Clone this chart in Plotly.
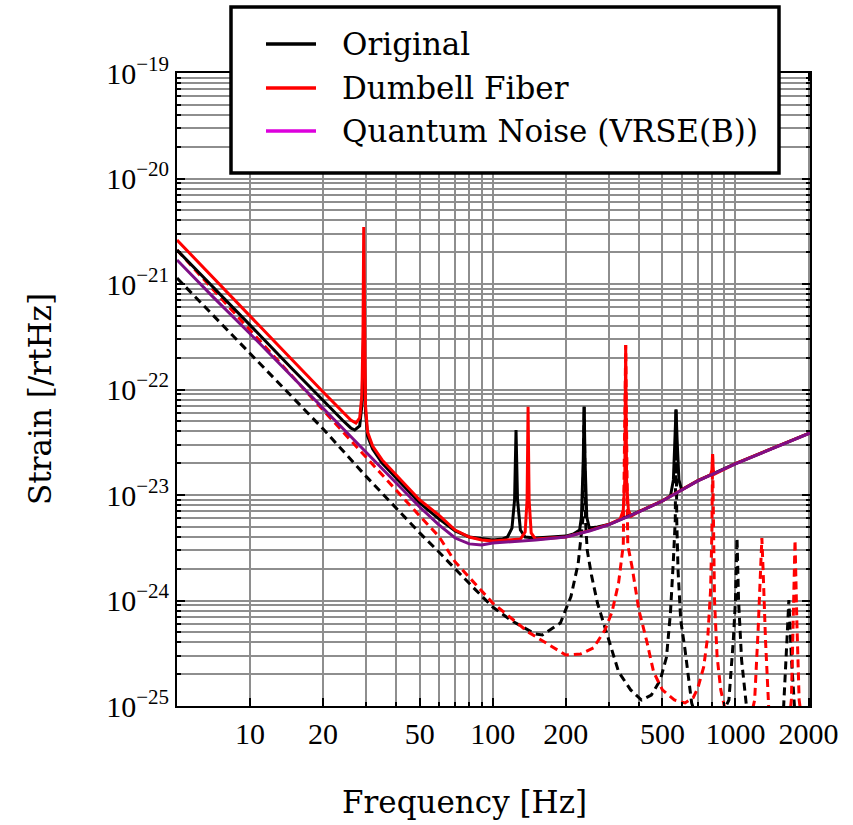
import plotly.graph_objects as go

# ---------------- data (frequency in Hz, strain in 1/sqrt(Hz)) ----------------
qn_freq = [5, 7, 10, 15, 20, 30, 40, 50, 60, 70, 80, 90, 100, 150, 200, 250, 300,
           400, 500, 700, 1000, 1500, 2030]
qn_strain = [1.69e-21, 7.63e-22, 3.38e-22, 1.30e-22, 6.65e-23, 2.58e-23, 1.28e-23,
             7.69e-24, 5.20e-24, 3.91e-24, 3.44e-24, 3.36e-24, 3.51e-24, 3.75e-24,
             4.00e-24, 4.56e-24, 5.20e-24, 6.90e-24, 8.77e-24, 1.36e-23, 1.97e-23,
             2.92e-23, 3.87e-23]

orig_freq = [5, 7, 10, 15, 20, 24, 26, 27, 28.3, 28.9, 29.4, 29.9, 30.5, 32, 35, 40,
             50, 60, 70, 80, 90, 100, 110, 115, 120, 123, 124.7, 126.5, 130, 136,
             150, 200, 215, 228, 232, 236, 238, 240, 244, 250, 270, 300, 400, 500,
             540, 555, 563, 569, 575, 585, 600, 700, 1000, 1500, 2030]
orig_strain = [2.10e-21, 9.38e-22, 4.08e-22, 1.55e-22, 7.78e-23, 5.14e-23, 4.32e-23,
               4.13e-23, 4.51e-23, 7.13e-23, 3.66e-22, 6.12e-23, 3.62e-23, 2.73e-23,
               2.01e-23, 1.45e-23, 8.40e-24, 5.93e-24, 4.56e-24, 4.00e-24, 3.83e-24,
               3.74e-24, 3.83e-24, 4.00e-24, 4.86e-24, 8.97e-24, 4.13e-23, 8.97e-24,
               4.66e-24, 4.00e-24, 3.91e-24, 4.08e-24, 4.27e-24, 4.66e-24, 6.18e-24,
               2.15e-23, 6.87e-23, 2.15e-23, 6.18e-24, 4.86e-24, 4.97e-24, 5.25e-24,
               6.95e-24, 8.80e-24, 9.80e-24, 1.39e-23, 3.32e-23, 6.49e-23, 3.32e-23,
               1.39e-23, 1.12e-23, 1.37e-23, 1.98e-23, 2.93e-23, 3.88e-23]

dumb_freq = [5, 7, 10, 15, 20, 24, 26, 27.3, 28.3, 28.9, 29.2, 29.4, 29.6, 29.9, 30.5,
             32, 35, 40, 50, 60, 70, 80, 90, 100, 120, 130, 136, 138.5, 139.8, 141.2,
             144, 150, 200, 250, 300, 335, 345, 350, 353, 356, 362, 372, 400, 500,
             700, 790, 800, 805, 810, 820, 1000, 1500, 2030]
dumb_strain = [2.61e-21, 1.16e-21, 4.98e-22, 1.88e-22, 9.46e-23, 6.12e-23, 5.14e-23,
               4.81e-23, 5.37e-23, 8.87e-23, 3.66e-22, 3.47e-21, 3.66e-22, 7.13e-23,
               3.95e-23, 2.91e-23, 2.15e-23, 1.55e-23, 8.97e-24, 6.45e-24, 4.66e-24,
               4.00e-24, 3.74e-24, 3.66e-24, 3.74e-24, 3.82e-24, 4.45e-24, 8.97e-24,
               6.87e-23, 8.97e-24, 4.37e-24, 3.82e-24, 4.00e-24, 4.60e-24, 5.25e-24,
               5.90e-24, 7.21e-24, 1.39e-23, 2.64e-22, 1.39e-23, 7.21e-24, 6.30e-24,
               6.95e-24, 8.80e-24, 1.37e-23, 1.55e-23, 1.73e-23, 2.45e-23, 1.73e-23,
               1.58e-23, 1.98e-23, 2.93e-23, 3.88e-23]

# suspension thermal noise (dashed)
orig_th_freq = [5, 10, 20, 30, 50, 60, 70, 85, 100, 120, 150, 160, 190, 210, 225, 235,
                238, 241, 245, 255, 270, 300, 330, 370, 410, 450, 490, 520, 540, 555,
                565, 569, 573, 580, 595, 620, 660, 700, 850, 940, 980, 1000, 1015,
                1030, 1060, 1110, 1200, 1450, 1580, 1630, 1660, 1700, 1750, 1850, 2030]
orig_th_strain = [1.14e-21, 2.22e-22, 4.23e-23, 1.51e-23, 4.37e-24, 2.88e-24, 1.99e-24,
                  1.26e-24, 8.67e-25, 6.40e-25, 4.81e-25, 4.71e-25, 6.12e-25, 1.09e-24,
                  2.26e-24, 5.80e-24, 6.87e-23, 5.80e-24, 3.01e-24, 1.75e-24, 9.46e-25,
                  4.22e-25, 2.11e-25, 1.42e-25, 1.14e-25, 1.27e-25, 1.76e-25, 2.91e-25,
                  7.78e-25, 2.42e-24, 5.80e-24, 6.49e-23, 5.80e-24, 1.95e-24, 6.53e-25,
                  3.40e-25, 1.07e-25, 7.0e-26, 7.0e-26, 1.14e-25, 4.22e-25, 1.00e-24,
                  3.91e-24, 1.00e-24, 2.73e-25, 1.00e-25, 6.0e-26, 6.0e-26, 1.00e-25,
                  4.20e-25, 1.01e-24, 2.90e-25, 1.00e-25, 6.0e-26, 6.0e-26]

dumb_th_freq = [5, 10, 20, 30, 50, 60, 70, 100, 140, 200, 230, 260, 290, 310, 330, 345,
                353, 360, 375, 400, 430, 460, 500, 560, 620, 670, 700, 740, 770, 790,
                800, 805, 810, 820, 840, 870, 900, 950, 1150, 1200, 1240, 1270, 1285,
                1300, 1330, 1370, 1420, 1650, 1700, 1730, 1760, 1790, 1830, 1900, 2030]
dumb_th_strain = [2.10e-21, 3.66e-22, 6.40e-23, 2.26e-23, 6.33e-24, 4.05e-24, 2.32e-24,
                  9.46e-25, 5.02e-25, 3.04e-25, 3.11e-25, 3.55e-25, 5.25e-25, 7.78e-25,
                  1.47e-24, 3.36e-24, 2.64e-22, 3.36e-24, 2.08e-24, 8.13e-25, 4.22e-25,
                  2.10e-25, 1.42e-25, 1.14e-25, 1.07e-25, 1.20e-25, 1.48e-25, 2.35e-25,
                  4.71e-25, 1.26e-24, 4.66e-24, 2.45e-23, 4.66e-24, 1.00e-24, 2.97e-25,
                  1.42e-25, 1.00e-25, 7.4e-26, 7.4e-26, 1.14e-25, 5.25e-25, 1.95e-24,
                  3.91e-24, 1.95e-24, 4.22e-25, 1.00e-25, 5.9e-26, 5.9e-26, 1.14e-25,
                  6.53e-25, 3.74e-24, 6.53e-25, 1.14e-25, 5.9e-26, 5.9e-26]

# axis ticks
x_major = [10, 20, 50, 100, 200, 500, 1000, 2000]
x_major_text = ["10", "20", "50", "100", "200", "500", "1000", "2000"]
x_minor = [30, 40, 60, 70, 80, 90, 300, 400, 600, 700, 800, 900]
y_exponents = [-25, -24, -23, -22, -21, -20, -19]
y_major = [10.0 ** e for e in y_exponents]
y_major_text = ["10<sup>\u2212%d</sup>" % (-e) for e in y_exponents]
y_minor = [k * 10.0 ** e for e in y_exponents[:-1] for k in range(2, 10)]

legend_names = ["Original", "Dumbell Fiber", "Quantum Noise (VRSE(B))"]
legend_colors = ["#000000", "#ff0000", "#dd00dd"]

BLACK, RED, PURPLE = "#000000", "#ff0000", "#7f0f87"
DASH = "8px,5px"

fig = go.Figure()
fig.add_trace(go.Scatter(x=orig_th_freq, y=orig_th_strain, mode="lines",
                         line=dict(color=BLACK, width=3, dash=DASH)))
fig.add_trace(go.Scatter(x=dumb_th_freq, y=dumb_th_strain, mode="lines",
                         line=dict(color=RED, width=3, dash=DASH)))
fig.add_trace(go.Scatter(x=orig_freq, y=orig_strain, mode="lines", name=legend_names[0],
                         line=dict(color=BLACK, width=3)))
fig.add_trace(go.Scatter(x=dumb_freq, y=dumb_strain, mode="lines", name=legend_names[1],
                         line=dict(color=RED, width=3)))
fig.add_trace(go.Scatter(x=qn_freq, y=qn_strain, mode="lines", name=legend_names[2],
                         line=dict(color=PURPLE, width=3)))

# plot area in pixels
L, T, W, H = 177, 73, 633, 633
FIG_W, FIG_H = 853, 825


def px(x):
    return (x - L) / W


def py(y):
    return (T + H - y) / H


GRID = "#8e8e8e"
tick_font = dict(family="'Liberation Serif', 'Times New Roman', serif", size=30,
                 color="#000000")
title_font = dict(family="'DejaVu Serif', serif", size=31, color="#000000")

fig.update_xaxes(
    type="log", range=[0.69897, 3.3072],
    tickmode="array", tickvals=x_major, ticktext=x_major_text,
    ticks="inside", ticklen=8, tickwidth=1.5, tickcolor="#000000",
    showgrid=True, gridcolor=GRID, gridwidth=1.5,
    showline=True, linecolor="#000000", linewidth=2, mirror="allticks",
    tickfont=tick_font,
    minor=dict(tickmode="array", tickvals=x_minor, ticks="inside", ticklen=4,
               tickwidth=1.5, tickcolor="#000000", showgrid=True,
               gridcolor=GRID, gridwidth=1.5),
    zeroline=False,
)
fig.update_yaxes(
    type="log", range=[-25, -19],
    tickmode="array", tickvals=y_major, ticktext=y_major_text,
    ticks="inside", ticklen=8, tickwidth=1.5, tickcolor="#000000",
    showgrid=True, gridcolor=GRID, gridwidth=1.5,
    showline=True, linecolor="#000000", linewidth=2, mirror="allticks",
    tickfont=tick_font,
    minor=dict(tickmode="array", tickvals=y_minor, ticks="inside", ticklen=4,
               tickwidth=1.5, tickcolor="#000000", showgrid=True,
               gridcolor=GRID, gridwidth=1.5),
    zeroline=False,
)

# legend box with line samples
shapes = [dict(type="rect", xref="paper", yref="paper", layer="above",
               x0=px(231), x1=px(779), y0=py(173), y1=py(7),
               fillcolor="white", line=dict(color="#000000", width=3.5))]
annotations = []
rows = [44, 88, 131]
for name, color, ry in zip(legend_names, legend_colors, rows):
    shapes.append(dict(type="line", xref="paper", yref="paper", layer="above",
                       x0=px(266), x1=px(316), y0=py(ry), y1=py(ry),
                       line=dict(color=color, width=3.5)))
    annotations.append(dict(text=name, xref="paper", yref="paper", x=px(340), y=py(ry),
                            xanchor="left", yanchor="middle", showarrow=False,
                            font=title_font))

# axis titles
annotations.append(dict(text="Frequency [Hz]", xref="paper", yref="paper",
                        x=px(464), y=py(802), xanchor="center", yanchor="middle",
                        showarrow=False, font=title_font))
annotations.append(dict(text="Strain [/rtHz]", xref="paper", yref="paper",
                        x=px(40), y=py(399), xanchor="center", yanchor="middle",
                        textangle=-90, showarrow=False, font=title_font))

fig.update_layout(
    width=FIG_W, height=FIG_H,
    margin=dict(l=L, r=FIG_W - L - W, t=T, b=FIG_H - T - H),
    plot_bgcolor="white", paper_bgcolor="white",
    showlegend=False, shapes=shapes, annotations=annotations,
)

fig.write_html("out.html")
